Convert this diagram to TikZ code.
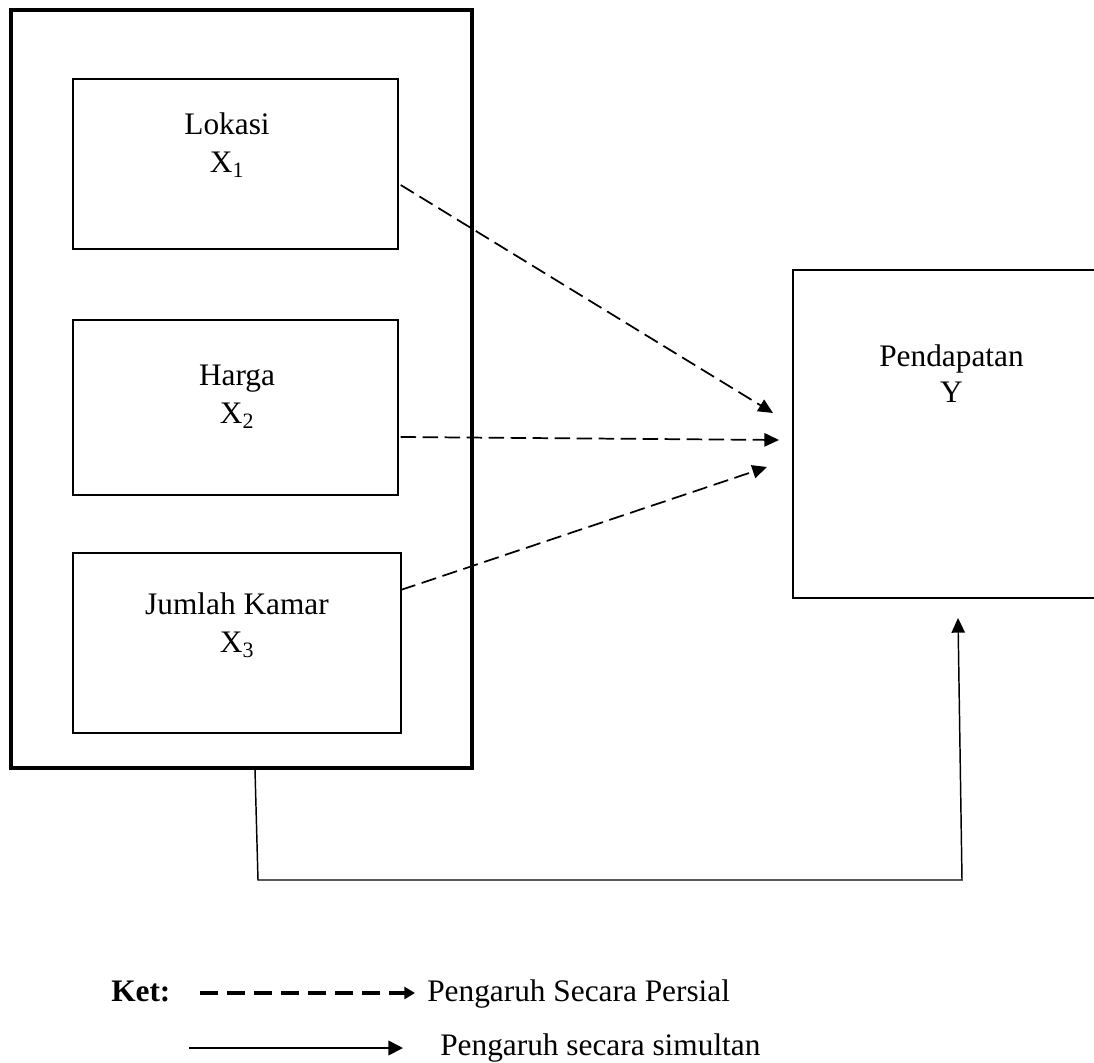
\documentclass[tikz,border=0pt]{standalone}
\usepackage{fontspec}
\setmainfont{Liberation Serif}
\usetikzlibrary{arrows.meta,calc,positioning}
\tikzset{
  box/.style={draw, line width=1.1pt, inner sep=0pt},
  lbl/.style={align=center, inner sep=0pt, font=\fontsize{23.5}{28.5}\selectfont},
  leg/.style={anchor=base west, inner sep=0pt, font=\fontsize{23.5}{28}\selectfont},
  partial/.style={line width=1.3pt, dash pattern=on 11.5pt off 5pt, -{Triangle[length=11pt,width=10pt]}},
  simul/.style={line width=1.1pt, -{Triangle[length=11pt,width=10pt]}}
}
\begin{document}
\begin{tikzpicture}[x=0.75pt,y=0.75pt,yscale=-1,xscale=1]
\clip (0,0) rectangle (1094,1062);

%Boxes
\node[box, line width=3pt, minimum width=345.75pt, minimum height=568.5pt] (outer) at (241.5,389) {};
\node[box, minimum width=243.75pt, minimum height=127.5pt] (lokasi) at (235.5,164) {};
\node[box, minimum width=243.75pt, minimum height=131.25pt] (harga) at (235.5,407.5) {};
\node[box, minimum width=246pt, minimum height=135pt] (kamar) at (237,643) {};
\node[box, minimum width=237.75pt, minimum height=246pt] (pend) at (951.5,434) {};

% Text Node
\node[lbl] (lokasi-t) at (227,145) {Lokasi\\X\textsubscript{1}};
\node[lbl] (harga-t) at (237,397) {Harga\\X\textsubscript{2}};
\node[lbl] (kamar-t) at (237,625) {Jumlah Kamar\\X\textsubscript{3}};
\node[lbl, font=\fontsize{23.5}{27}\selectfont] (pend-t) at (951.5,374) {Pendapatan\\Y};

%Arrows (persial)
\coordinate (e1) at (773,413);
\coordinate (e2) at (779,440);
\coordinate (e3) at (767,467);
\draw[partial] ($(lokasi.east)+(2,21)$) -- (e1);
\draw[partial] ($(harga.east)+(2,29.5)$) -- (e2);
\draw[partial] ($(kamar.east)+(-1,-53)$) -- (e3);

%Arrow (simultan)
\coordinate (c1) at (258,880);
\coordinate (c2) at (962,880);
\coordinate (e4) at (958,618);
\draw[simul] ($(outer.south)+(13.5,0)$) -- (c1) -- (c2) -- (e4);

%Legend
\node[leg, font=\fontsize{23.5}{28}\selectfont\bfseries] (ket) at (111,1001) {Ket:};
\coordinate (l1a) at (200,993);
\coordinate (l1b) at (415,993);
\draw[line width=3pt, dash pattern=on 13.5pt off 6.75pt, -{Triangle[length=8pt,width=9pt]}] (l1a) -- (l1b);
\node[leg] (l1t) at (427,1001) {Pengaruh Secara Persial};
\coordinate (l2a) at (189,1048);
\coordinate (l2b) at (403,1048);
\draw[line width=1.3pt, -{Triangle[length=11pt,width=11pt]}] (l2a) -- (l2b);
\node[leg] (l2t) at (440,1055) {Pengaruh secara simultan};

\end{tikzpicture}
\end{document}
